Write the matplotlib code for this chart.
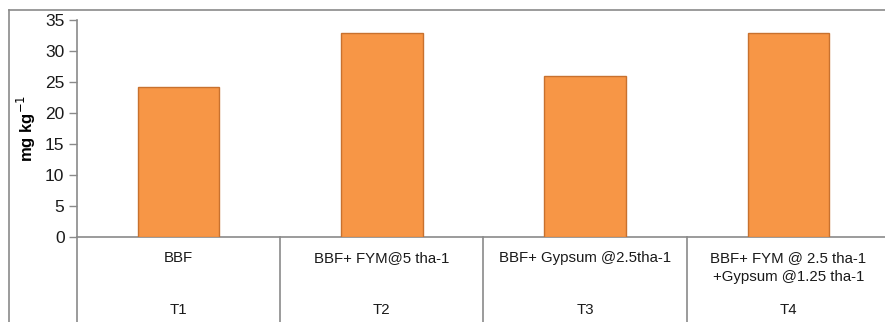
#!/usr/bin/env python3

import matplotlib
matplotlib.use('Agg')
import matplotlib.pyplot as plt
import matplotlib.transforms as mtransforms
from matplotlib.lines import Line2D

# treatment data
treatments = ['T1', 'T2', 'T3', 'T4']
descriptions = [
    'BBF',
    'BBF+ FYM@5 tha-1',
    'BBF+ Gypsum @2.5tha-1',
    'BBF+ FYM @ 2.5 tha-1\n+Gypsum @1.25 tha-1',
]
values = [24.2, 32.9, 26.0, 32.9]
yticks = [0, 5, 10, 15, 20, 25, 30, 35]

plt.rcParams['font.family'] = ['Liberation Sans', 'DejaVu Sans']

W, H = 885, 322
fig = plt.figure(figsize=(W / 100, H / 100), dpi=100)

# axes placed in pixel terms (right edge runs slightly past the image, as in the source)
left, right, top, bottom = 77, 890, 20, 237
ax = fig.add_axes([left / W, 1 - bottom / H, (right - left) / W, (bottom - top) / H])

xs = list(range(len(values)))
ax.bar(xs, values, width=0.4, color='#F79646', edgecolor='#C8712E', linewidth=1.0, zorder=3)

ax.set_xlim(-0.5, len(values) - 0.5)
ax.set_ylim(0, 35)
ax.set_yticks(yticks)
ax.set_xticks([])

for side in ['top', 'right']:
    ax.spines[side].set_visible(False)
for side in ['left', 'bottom']:
    ax.spines[side].set_color('#8a8a8a')
    ax.spines[side].set_linewidth(1.2)

ax.tick_params(axis='y', direction='out', length=6, width=1.0, color='#8a8a8a',
               labelsize=12.5, labelcolor='#1a1a1a', pad=3)

ax.set_ylabel('mg kg$^{-1}$', fontsize=12, fontweight='bold', labelpad=5)

# two-level category axis: separators and labels below the axis
trans = mtransforms.blended_transform_factory(ax.transData, ax.transAxes)
axes_h = bottom - top
for sep in [x - 0.5 for x in range(len(values) + 1)]:
    ax.plot([sep, sep], [0, -100 / axes_h], transform=trans, color='#8a8a8a',
            linewidth=1.2, clip_on=False)

for x, desc, t in zip(xs, descriptions, treatments):
    ax.text(x, -(251 - bottom) / axes_h, desc, transform=trans, ha='center', va='top',
            fontsize=10.8, color='#1a1a1a', linespacing=1.45)
    ax.text(x, -(310 - bottom) / axes_h, t, transform=trans, ha='center', va='center',
            fontsize=10.8, color='#1a1a1a')

# outer frame of the chart area (top and left edges visible)
fig.add_artist(Line2D([9 / W, 1], [1 - 10 / H, 1 - 10 / H], transform=fig.transFigure,
                      color='#8a8a8a', linewidth=1.2))
fig.add_artist(Line2D([9 / W, 9 / W], [0, 1 - 10 / H], transform=fig.transFigure,
                      color='#8a8a8a', linewidth=1.2))

fig.savefig('out.png', dpi=100)
